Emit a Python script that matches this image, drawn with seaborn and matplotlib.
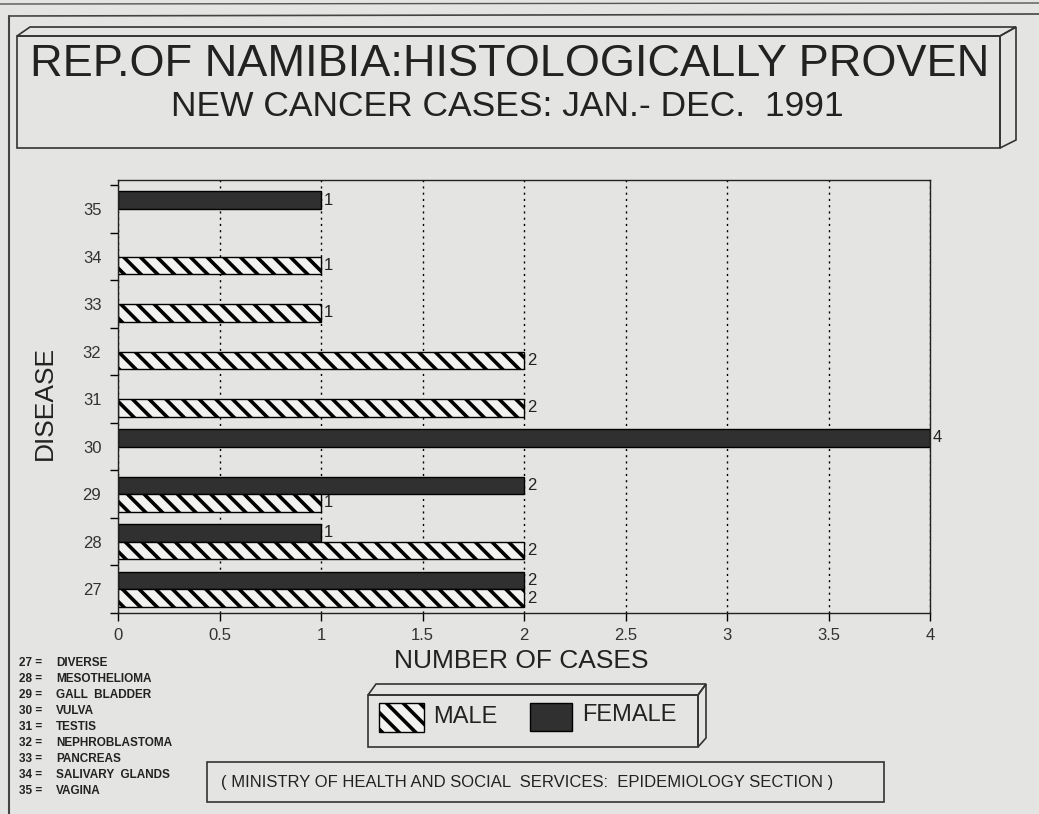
import pandas as pd
import seaborn as sns
import matplotlib.pyplot as plt
from matplotlib.patches import Rectangle, Polygon
from matplotlib.lines import Line2D

# Données
diseases = ['27', '28', '29', '30', '31', '32', '33', '34', '35']
male = [2, 2, 1, 0, 2, 2, 1, 1, 0]
female = [2, 1, 2, 4, 0, 0, 0, 0, 1]
disease_names = ["DIVERSE", "MESOTHELIOMA", "GALL  BLADDER", "VULVA", "TESTIS",
                 "NEPHROBLASTOMA", "PANCREAS", "SALIVARY  GLANDS", "VAGINA"]
x_ticks = [0, 0.5, 1, 1.5, 2, 2.5, 3, 3.5, 4]
x_labels = ['0', '0.5', '1', '1.5', '2', '2.5', '3', '3.5', '4']

BG = "#e4e4e2"
DARK = "#303030"
INK = "#222222"

sns.set_theme(style="white")
plt.rcParams['font.family'] = ['Liberation Sans', 'DejaVu Sans']
plt.rcParams['hatch.color'] = 'black'
plt.rcParams['hatch.linewidth'] = 2.6

# table longue, sans les valeurs nulles
rows = []
for d, m, f in zip(diseases, male, female):
    if f > 0:
        rows.append({'disease': d, 'cases': f, 'sex': 'FEMALE'})
    if m > 0:
        rows.append({'disease': d, 'cases': m, 'sex': 'MALE'})
df = pd.DataFrame(rows)

W, H = 1039, 814
fig = plt.figure(figsize=(W / 100, H / 100), dpi=100, facecolor=BG)


def fx(x):
    return x / W


def fy(y):
    return 1 - y / H


ax = fig.add_axes([fx(118), fy(613), fx(930) - fx(118), fy(180) - fy(613)])
ax.set_facecolor(BG)

sns.barplot(data=df, x='cases', y='disease', hue='sex', orient='h',
            order=diseases[::-1], hue_order=['FEMALE', 'MALE'],
            palette={'MALE': '#f2f2f0', 'FEMALE': DARK},
            width=0.74, dodge=True, legend=False, edgecolor='black', linewidth=1.0, ax=ax)

for cont, lvl in zip(ax.containers, ['FEMALE', 'MALE']):
    if lvl == 'MALE':
        for p in cont:
            p.set_hatch('\\\\')
    ax.bar_label(cont, fmt='%d', padding=2, fontsize=12, color=INK)

ax.set_xlim(0, 4)
ax.set_ylim(len(diseases) - 0.5, -0.61)
ax.set_xticks(x_ticks)
ax.set_xticklabels(x_labels, fontsize=12, color='#333333')
ax.tick_params(axis='y', which='major', length=0, pad=12, labelsize=12, labelcolor='#333333')
ax.set_yticks([i - 0.5 for i in range(len(diseases) + 1)], minor=True)
ax.tick_params(axis='y', which='minor', left=True, length=6, width=1, color='black', direction='out')
ax.tick_params(axis='x', which='major', bottom=True, length=6, width=1, color='black', direction='out', pad=5)
ax.grid(axis='x', linestyle=(0, (1.5, 3)), color='black', linewidth=1)
ax.set_axisbelow(True)
for s in ax.spines.values():
    s.set_color(INK)
    s.set_linewidth(1.0)
ax.set_xlabel('')
ax.set_ylabel('')

# textes d'axes
fig.text(fx(521), fy(661), 'NUMBER OF CASES', ha='center', va='center', fontsize=19, color=INK)
fig.text(fx(45), fy(403), 'DISEASE', ha='center', va='center', rotation=90, fontsize=19, color=INK)

# cadre du titre en relief
fig.patches.append(Polygon([(fx(17), fy(36)), (fx(30), fy(27)), (fx(1016), fy(27)), (fx(1000), fy(36))],
                           closed=True, fill=False, edgecolor='#333333', lw=1.2, transform=fig.transFigure))
fig.patches.append(Polygon([(fx(1000), fy(36)), (fx(1016), fy(27)), (fx(1016), fy(140)), (fx(1000), fy(148))],
                           closed=True, fill=False, edgecolor='#333333', lw=1.2, transform=fig.transFigure))
fig.patches.append(Rectangle((fx(17), fy(148)), fx(1000) - fx(17), fy(36) - fy(148), fill=False,
                             edgecolor='#333333', lw=1.2, transform=fig.transFigure))
fig.text(fx(510), fy(64), 'REP.OF NAMIBIA:HISTOLOGICALLY PROVEN', ha='center', va='center',
         fontsize=32.5, color=INK)
fig.text(fx(507), fy(106), 'NEW CANCER CASES: JAN.- DEC.  1991', ha='center', va='center',
         fontsize=25.5, color=INK)

# légende en relief
fig.patches.append(Polygon([(fx(368), fy(695)), (fx(376), fy(684)), (fx(706), fy(684)), (fx(698), fy(695))],
                           closed=True, fill=False, edgecolor='#333333', lw=1.2, transform=fig.transFigure))
fig.patches.append(Polygon([(fx(698), fy(695)), (fx(706), fy(684)), (fx(706), fy(738)), (fx(698), fy(747))],
                           closed=True, fill=False, edgecolor='#333333', lw=1.2, transform=fig.transFigure))
fig.patches.append(Rectangle((fx(368), fy(747)), fx(698) - fx(368), fy(695) - fy(747), fill=False,
                             edgecolor='#333333', lw=1.2, transform=fig.transFigure))
fig.patches.append(Rectangle((fx(379), fy(732)), fx(424) - fx(379), fy(703) - fy(732), facecolor='#f2f2f0',
                             hatch='\\\\', edgecolor='black', lw=1, transform=fig.transFigure))
fig.text(fx(433), fy(717), 'MALE', ha='left', va='center', fontsize=17, color=INK)
fig.patches.append(Rectangle((fx(530), fy(731)), fx(572) - fx(530), fy(703) - fy(731), facecolor=DARK,
                             edgecolor='black', lw=1, transform=fig.transFigure))
fig.text(fx(582), fy(715), 'FEMALE', ha='left', va='center', fontsize=17, color=INK)

# source
fig.patches.append(Rectangle((fx(207), fy(802)), fx(884) - fx(207), fy(762) - fy(802), fill=False,
                             edgecolor='#333333', lw=1.2, transform=fig.transFigure))
fig.text(fx(527), fy(782), '( MINISTRY OF HEALTH AND SOCIAL  SERVICES:  EPIDEMIOLOGY SECTION )',
         ha='center', va='center', fontsize=12, color=INK)

# liste des maladies
for i, (d, name) in enumerate(zip(diseases, disease_names)):
    fig.text(fx(19), fy(663 + i * 16), f'{d} =', ha='left', va='center',
             fontsize=8.5, color=INK, fontweight='bold')
    fig.text(fx(56), fy(663 + i * 16), name, ha='left', va='center',
             fontsize=8.5, color=INK, fontweight='bold')

# bords de page
fig.lines.append(Line2D([fx(9), fx(9)], [fy(16), fy(814)], color='#444444', lw=1.5, transform=fig.transFigure))
fig.lines.append(Line2D([fx(9), fx(1039)], [fy(16), fy(14)], color='#444444', lw=1.2, transform=fig.transFigure))
fig.lines.append(Line2D([fx(0), fx(1039)], [fy(4), fy(3)], color='#555555', lw=1.0, transform=fig.transFigure))

fig.savefig('out.png', dpi=100, facecolor=BG)
